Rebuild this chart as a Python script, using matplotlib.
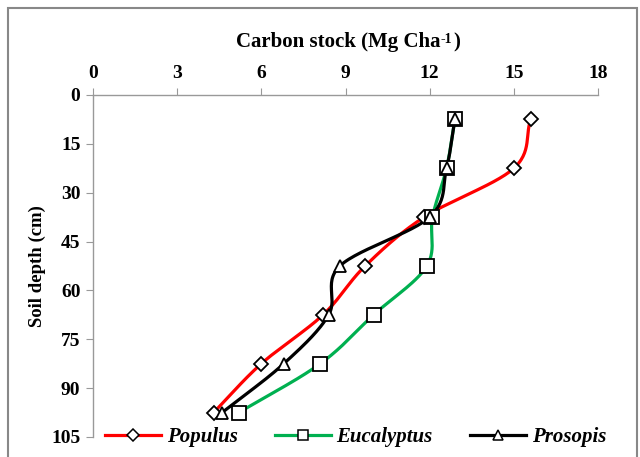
import numpy as np
import matplotlib
matplotlib.use("Agg")
import matplotlib.pyplot as plt
from matplotlib.patches import Rectangle

plt.rcParams['font.family'] = ['Liberation Serif', 'DejaVu Serif']
plt.rcParams['font.weight'] = 'bold'

# soil depth (cm) at the middle of each layer
depth = [7.5, 22.5, 37.5, 52.5, 67.5, 82.5, 97.5]
populus = [15.6, 15.0, 11.8, 9.7, 8.2, 6.0, 4.3]
eucalyptus = [12.9, 12.6, 12.1, 11.9, 10.0, 8.1, 5.2]
prosopis = [12.9, 12.6, 12.0, 8.8, 8.4, 6.8, 4.6]

x_ticks = [0, 3, 6, 9, 12, 15, 18]
y_ticks = [0, 15, 30, 45, 60, 75, 90, 105]


def smooth(xs, ys, n=30):
    # Catmull-Rom spline through the points, like Excel's smoothed lines
    p = np.column_stack([xs, ys]).astype(float)
    p = np.vstack([2 * p[0] - p[1], p, 2 * p[-1] - p[-2]])
    out = []
    t = np.linspace(0, 1, n)[:, None]
    for i in range(1, len(p) - 2):
        p0, p1, p2, p3 = p[i - 1], p[i], p[i + 1], p[i + 2]
        seg = 0.5 * ((2 * p1) + (-p0 + p2) * t
                     + (2 * p0 - 5 * p1 + 4 * p2 - p3) * t ** 2
                     + (-p0 + 3 * p1 - 3 * p2 + p3) * t ** 3)
        out.append(seg)
    c = np.vstack(out)
    return c[:, 0], c[:, 1]


fig = plt.figure(figsize=(6.4, 4.57), dpi=100)
ax = fig.add_axes([0.1453, 0.0438, 0.7891, 0.7484])

series = [
    ("Populus", populus, "#FF0000", "D", 7.5),
    ("Eucalyptus", eucalyptus, "#00B050", "s", 9.5),
    ("Prosopis", prosopis, "black", "^", 9),
]
for name, vals, col, mk, ms in series:
    sx, sy = smooth(vals, depth)
    ax.plot(sx, sy, color=col, lw=2.3, zorder=2)
    ax.plot(vals, depth, ls='none', marker=mk, ms=ms, mfc='white',
            mec='black', mew=1.3, zorder=3)
    ax.plot([], [], color=col, lw=2.3, marker=mk, ms=ms * 0.75, mfc='white',
            mec='black', mew=1.1, label=name)

ax.set_xlim(0, 18)
ax.set_ylim(105, 0)
ax.set_xticks(x_ticks)
ax.set_yticks(y_ticks)
ax.xaxis.tick_top()
ax.tick_params(axis='both', direction='out', length=5, color='#999999',
               labelsize=14, pad=4)
for lbl in ax.get_xticklabels() + ax.get_yticklabels():
    lbl.set_fontweight('bold')
for s in ['right', 'bottom']:
    ax.spines[s].set_visible(False)
for s in ['left', 'top']:
    ax.spines[s].set_color('#999999')
    ax.spines[s].set_linewidth(1.0)

# x label above the axis, with a small raised "-1"
t1 = fig.text(440 / 640, 1 - 42 / 457, "Carbon stock (Mg Cha", fontsize=15,
              fontweight='bold', ha='right', va='center')
t2 = ax.annotate("-1", xy=(1, 1), xycoords=t1, xytext=(0.5, -1),
                 textcoords='offset points', fontsize=10, fontweight='bold',
                 ha='left', va='top')
ax.annotate(")", xy=(1, 0), xycoords=(t2, t1), xytext=(0.5, 0),
            textcoords='offset points', fontsize=15, fontweight='bold',
            ha='left', va='bottom')

ax.set_ylabel("Soil depth (cm)", fontsize=13.5, fontweight='bold', labelpad=4)

leg = ax.legend(loc='center', bbox_to_anchor=(0.52, 0.0), ncol=3,
                frameon=False, handlelength=2.7, columnspacing=1.8,
                handletextpad=0.25,
                prop={'family': 'Liberation Serif', 'weight': 'bold',
                      'style': 'italic', 'size': 15})

fig.patches.append(Rectangle((8 / 640, -0.1), 629 / 640, 1.1 - 8 / 457,
                             transform=fig.transFigure, fill=False,
                             ec='#888888', lw=1.5, zorder=0))

fig.savefig("out.png", dpi=100)
